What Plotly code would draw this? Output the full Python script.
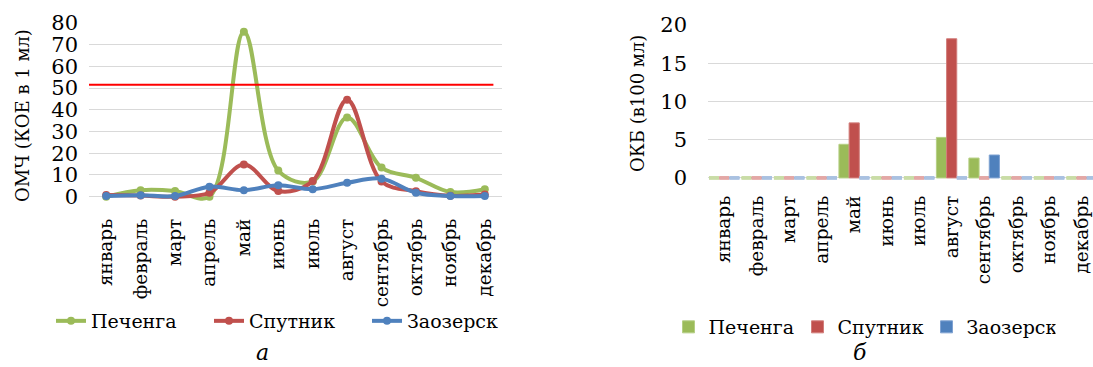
import plotly.graph_objects as go

months = ["январь", "февраль", "март", "апрель", "май", "июнь", "июль",
          "август", "сентябрь", "октябрь", "ноябрь", "декабрь"]
series_names = ["Печенга", "Спутник", "Заозерск"]

# ОМЧ (КОЕ в 1 мл)
omch_pechenga = [0, 3, 2.6, 0, 76, 12, 7, 36.5, 13.4, 8.7, 2.1, 3.4]
omch_sputnik = [0.8, 0.5, 0, 1.8, 14.8, 2.6, 7.2, 44.7, 7, 2.5, 0.4, 1]
omch_zaozersk = [0.3, 0.7, 0.3, 4.6, 3.0, 5.2, 3.4, 6.4, 8.3, 1.8, 0.3, 0.3]
omch_norm = 51.5

# ОКБ (в 100 мл)
okb_pechenga = [0, 0, 0, 0, 4.4, 0, 0, 5.3, 2.6, 0, 0, 0]
okb_sputnik = [0, 0, 0, 0, 7.2, 0, 0, 18.2, 0, 0, 0, 0]
okb_zaozersk = [0, 0, 0, 0, 0, 0, 0, 0, 3.0, 0, 0, 0]

colors = ["#9bbb59", "#c0504d", "#4f81bd"]
light = ["#c9dca6", "#e3a7a5", "#a9c1e1"]
edge = ["#b5cf84", "#d27e7b", "#7fa2d2"]

FONT = "'DejaVu Serif', serif"
W, H = 1093, 367

fig = go.Figure()

# Left: line chart
for name, vals, c in zip(series_names, [omch_pechenga, omch_sputnik, omch_zaozersk], colors):
    fig.add_trace(go.Scatter(
        x=months, y=vals, name=name, mode="lines+markers",
        line=dict(color=c, width=4, shape="spline", smoothing=1.0),
        marker=dict(color=c, size=8),
        xaxis="x", yaxis="y", legend="legend",
    ))

# Right: bar chart
zero_h = 0.5
for i, (name, vals) in enumerate(zip(series_names, [okb_pechenga, okb_sputnik, okb_zaozersk])):
    fig.add_trace(go.Bar(
        x=months, y=vals, name=name, offsetgroup=str(i),
        marker=dict(color=colors[i], line=dict(color=edge[i], width=1)),
        xaxis="x2", yaxis="y2", legend="legend2",
    ))
    fig.add_trace(go.Bar(
        x=months, y=[zero_h if v == 0 else None for v in vals],
        base=-zero_h / 2, offsetgroup=str(i), showlegend=False,
        marker=dict(color=light[i], line=dict(width=0)),
        xaxis="x2", yaxis="y2", hoverinfo="skip",
    ))

# Norm line on left chart
fig.add_shape(type="line", xref="x", yref="y", x0=-0.62, x1=11.25,
              y0=omch_norm, y1=omch_norm, line=dict(color="#ff0000", width=2))

monthfont = dict(family=FONT, size=18.5, color="black")
numfont = dict(family=FONT, size=21, color="black")
grid = "#d9d9d9"

def ann(text, x, y, size, angle=0):
    return dict(text=text, x=x / W, y=1 - y / H, xref="paper", yref="paper",
                xanchor="center", yanchor="middle", textangle=angle,
                showarrow=False, font=dict(family=FONT, size=size, color="black"))

fig.update_layout(
    width=W, height=H,
    margin=dict(l=0, r=0, t=0, b=0, autoexpand=False),
    paper_bgcolor="white", plot_bgcolor="white",
    font=dict(family=FONT, color="black"),
    barmode="group", bargap=0.06, bargroupgap=0,
    xaxis=dict(domain=[89 / W, 502 / W], range=[-0.5, 11.5], tickangle=-90,
               tickfont=monthfont, showgrid=False, showline=False, ticks="",
               ticklabelstandoff=13, anchor="y", automargin=False),
    yaxis=dict(domain=[1 - 201 / H, 1 - 23 / H], range=[-2, 80], dtick=10,
               tickfont=numfont, showgrid=True, gridcolor=grid, gridwidth=1,
               zeroline=False, showline=False, ticks="", ticklabelstandoff=10,
               anchor="x", automargin=False),
    xaxis2=dict(domain=[708 / W, 1.0], range=[-0.5, 11.35], tickangle=-90,
                tickfont=monthfont, showgrid=False, showline=False, ticks="",
                ticklabelstandoff=10, anchor="y2", automargin=False),
    yaxis2=dict(domain=[1 - 181 / H, 1 - 25 / H], range=[-0.4, 20], dtick=5,
                tickfont=numfont, showgrid=True, gridcolor=grid, gridwidth=1,
                zeroline=False, showline=False, ticks="", ticklabelstandoff=20,
                anchor="x2", automargin=False),
    legend=dict(orientation="h", x=288 / W, y=1 - 321 / H, xanchor="center",
                yanchor="middle", font=dict(family=FONT, size=19),
                bgcolor="rgba(0,0,0,0)", entrywidth=113, entrywidthmode="pixels"),
    legend2=dict(orientation="h", x=862 / W, y=1 - 327 / H, xanchor="center",
                 yanchor="middle", font=dict(family=FONT, size=19),
                 bgcolor="rgba(0,0,0,0)", itemwidth=30, entrywidth=84,
                 entrywidthmode="pixels"),
    annotations=[
        ann("ОМЧ (КОЕ в 1 мл)", 22, 116, 18, -90),
        ann("ОКБ (в100 мл)", 637, 103, 18, -90),
        ann("<i>а</i>", 262, 352, 22),
        ann("<i>б</i>", 860, 352, 22),
    ],
)

fig.write_html("out.html", config={"displayModeBar": False},
               post_script="document.body.style.margin='0';")
